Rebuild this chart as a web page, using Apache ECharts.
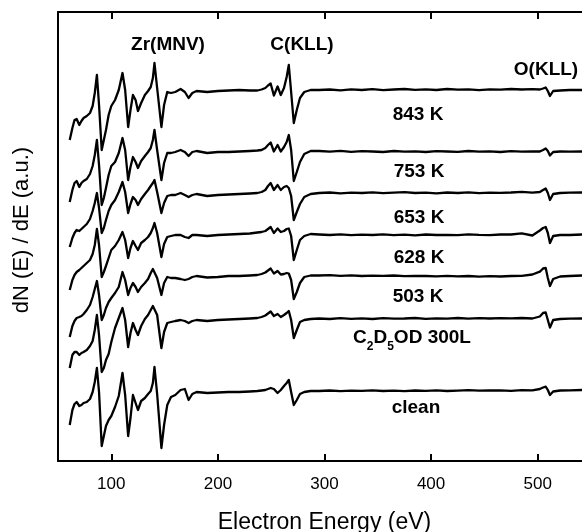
<!DOCTYPE html>
<html>
<head>
<meta charset="utf-8">
<title>AES spectra</title>
<script src="https://cdn.jsdelivr.net/npm/echarts@6/dist/echarts.min.js"></script>
<style>
  html, body { margin: 0; padding: 0; background: #fff; }
  #chart { width: 582px; height: 532px; }
</style>
</head>
<body>
<div id="chart"></div>
<script>
// energy grid (eV), shared by all spectra
const energy = [
  61, 63.5, 65.5, 67.5, 70, 72, 74, 77, 80, 82.5, 84.5, 86.5, 88.5, 91, 93, 95, 97.5, 100, 103.5, 107,
  110.5, 113, 115.8, 118, 120.3, 122.8, 125, 128, 131.5, 134.5, 137, 139, 140.5, 143, 147, 149.5, 152.5, 156, 160, 165,
  169, 172.5, 176, 180,
  190, 200, 210, 220, 230, 237, 241, 244.5, 247, 249.5, 252.5, 256, 259, 262, 264.5, 266.5, 268.7, 271.2, 274, 277,
  281, 287,
  295, 305, 315, 325, 335, 345, 355, 365, 375, 385, 395, 405, 415, 425, 435, 445, 455, 465, 475, 485, 495,
  502, 505, 507.5, 509.5, 511.5, 514.5, 521, 530, 541.8, 550
];

// dN/dE signal of each spectrum (a.u., relative to its own baseline)
const spec843 = [
  -50, -38, -30, -29, -35, -31, -28, -26, -23, -16, -3, 15, -15, -60, -50, -40, -25, -16, -10, 0,
  17, 0, -37, -20, -5, -10, -21, -13, -5, -1, 3, 12, 27, 2, -37, -15, -2, -3, -2, 1,
  -2, -8, -3, -1,
  -2, -1, -0.5, 0, -0.5, -0.5, 0.5, 2, 4.5, 6.5, -5.5, 3.5, -5, 2, 13, 25, -2, -33, -20, -8, -2, 0,
  0, 0.5, -0.3, 0.6, 0, 0.8, -0.2, 0.5, 1, 0.2, 0.6, 0, 1, 0.3, 0.7, -0.2, 0.6, 0.4, 1, 0.5, 0.8,
  0.5, 1.5, 2.5, -1, -6, -1, -0.5, 0, 0, 0
];
const spec753 = [
  -52, -40, -33, -31, -37, -33, -31, -29, -24, -16, -5, 10, -15, -55, -48, -38, -25, -16, -12, -3,
  12, 0, -30, -17, -7, -12, -18, -11, -6, -2, 2, 10, 20, 0, -30, -13, -3, -3, -2, 0,
  -2, -6, -2, -1,
  -3, -2, -2, -1.5, -1, -0.5, 0, 2, 5, 7.5, -1.5, 5, -1.5, 3, 8, 15, 0, -31, -22, -12, -4, -1,
  -1, -1.6, -0.8, -1.8, -1.2, -1.5, -2, -1, -1.7, -1.3, -2, -1.2, -1.5, -1.9, -1, -1.6, -1.4, -2, -1.2, -1.7, -1.3,
  -1.5, 0, 1.5, -1, -5.5, -2, -1.5, -1.7, -1.5, -1.5
];
const spec653 = [
  -54, -45, -40, -37, -38, -36, -34, -31, -26, -18, -10, 0, -15, -40, -35, -27, -18, -12, -7, 1,
  11, 1, -20, -11, -4, -7, -12, -6, -1, 3, 7, 10, 13, 1, -20, -10, -3, -2, -2, 0,
  -2, -4, -2, -1,
  -3, -2, -1.5, -1, -0.5, 0, 1, 3, 7, 10, 3, 8, 3, 6, 7, 5, -3, -27, -19, -11, -4, -1,
  0, 0.5, -0.3, 0.4, 0, 0.6, -0.2, 0.3, 0.8, 0, 0.4, -0.3, 0.5, 0, 0.6, -0.2, 0.4, 0.2, 0.5, 1.2, 0.3,
  1, 3, 4.5, 0, -7, -1, 0, 0.3, 0.5, 0.5
];
const spec628 = [
  -56, -46, -41, -38, -36, -34, -32, -29, -26, -20, -11, 5, -11, -43, -38, -32, -24, -16, -12, -6,
  2, -6, -24, -14, -7, -12, -16, -9, -6, -3, 1, 6, 11, 1, -23, -10, -3, -2, -1, -1,
  -3, -4, -1, -1,
  -2, -1, -0.5, 0, 0.5, 1.5, 2, 3, 5, 7, 1, 5.5, 2, 3, 5, 5.5, -2, -26, -16, -6, -2, 0,
  -0.5, -1, -0.3, -1.2, -0.6, -1, -0.4, -1.1, -0.7, -1.3, -0.5, -1, -0.8, -1.2, -0.4, -0.9, -1.1, -0.5, -0.5, 0.6, -1.5,
  3.5, 6, 7, 1, -9, -2, -1, -1, -0.5, -0.5
];
const spec503 = [
  -62, -51, -46, -43, -42, -41, -39, -35, -30, -22, -14, -6, -20, -45, -40, -33, -27, -23, -18, -12,
  3, -5, -20, -13, -8, -12, -17, -12, -8, -4, 2, 6, 5, -3, -20, -8, -2, -3, -3, -4,
  -5, -4, -2, -1,
  -2.5, -2, -1, -1, -0.5, 0, 1, 2.5, 4.5, 6.5, 1.5, 4, 0.5, 1, 2, 1.5, -5, -24, -17, -8, -2, -0.5,
  -0.5, -0.2, -0.8, -0.4, -1, -0.6, -0.9, -0.5, -1.2, -0.8, -1, -1.4, -0.9, -1.3, -1, -1.6, -1.2, -1.5, -1, -0.8, 0.5,
  3.3, 6.5, 7, -3, -11, -4, -1.5, -1, -0.5, 0
];
const specEtOD = [
  -49, -36, -33, -33, -36, -34, -33, -31, -27, -22, -11, 4, -16, -53, -49, -41, -35, -23, -9, 1,
  11, -1, -28, -14, -4, -11, -16, -7, 0, 4, 9, 13, 14, 4, -29, -13, -4, -3, -2, -1,
  -2, -4, -2, -1,
  -2, -1, -0.5, 0, 0.5, 1, 2, 3.5, 5.5, 7.5, 3, 5, 2, 4, 6, 8, -1, -19, -11, -3, -1, 0,
  0.5, 0, 0.8, 0.2, 0.6, 0, 0.9, 0.3, 0.5, 1, 0.2, 0.7, 0.4, 1, 0.3, 0.8, 0.5, 0.9, 0.6, 1, 0.5,
  2.5, 6, 6.5, -1, -8.5, -1, 0, 0.3, 0.5, 0.5
];
const specClean = [
  -34, -19, -13, -11, -15, -14, -12, -11, -8, -1, 9, 23, -1, -55, -45, -35, -29, -25, -16, -5,
  18, -4, -45, -27, -4, -12, -19, -10, -7, -3, 0, 8, 24, -3, -57, -34, -14, -6, -4, 1,
  2, -9, -3, -1,
  -2, -1.5, -1, -1, -0.5, 0, 0.5, 1, 2, 3, 2, -2, 1, 5, 8, 11, -1, -14, -9, -3, -1, 0,
  0, 0.5, -0.2, 0.4, 0.1, 0.6, 0, 0.4, -0.2, 0.5, 0.2, 0.6, 0, 0.4, 0.8, 0.3, 0.5, 0.7, 0.2, 0.9, 0.6,
  2, 3.5, 4.3, 1, -4, -0.5, 0.5, 0.7, 1, 1
];

// vertical stacking offset of each spectrum (a.u.)
const offsets = [371, 311, 268, 227, 186, 142, 70];
const seriesNames = ['843 K', '753 K', '653 K', '628 K', '503 K', 'C2D5OD 300L', 'clean'];
const signals = [spec843, spec753, spec653, spec628, spec503, specEtOD, specClean];

const tickValues = [100, 200, 300, 400, 500];
const peakNames = ['Zr(MNV)', 'C(KLL)', 'O(KLL)'];

const FONT = '"Liberation Sans", Arial, Helvetica, sans-serif';

const chart = echarts.init(document.getElementById('chart'), null, { renderer: 'canvas' });

const series = signals.map(function (sig, k) {
  return {
    name: seriesNames[k],
    type: 'line',
    xAxisIndex: 0,
    yAxisIndex: 0,
    showSymbol: false,
    symbol: 'none',
    silent: true,
    clip: true,
    lineStyle: { color: '#000', width: 2.3, join: 'round' },
    data: energy.map(function (e, i) { return [e, offsets[k] + sig[i]]; })
  };
});

function label(text, x, y, size) {
  return {
    type: 'text',
    x: x,
    y: y,
    style: {
      text: text,
      font: 'bold ' + (size || 19) + 'px ' + FONT,
      fill: '#000',
      align: 'center', verticalAlign: 'middle',
      textAlign: 'center', textVerticalAlign: 'middle'
    }
  };
}

// label positions (px)
const graphics = [
  label(peakNames[0], 168, 45),
  label(peakNames[1], 302, 45),
  label(peakNames[2], 546, 70),
  label(seriesNames[0], 418, 115),
  label(seriesNames[1], 419, 172),
  label(seriesNames[2], 419, 218),
  label(seriesNames[3], 419, 258),
  label(seriesNames[4], 418, 297),
  {
    type: 'text',
    x: 412,
    y: 338,
    style: {
      text: 'C{s|2}D{s|5}OD 300L',
      font: 'bold 19px ' + FONT,
      fill: '#000',
      align: 'center', verticalAlign: 'middle',
      textAlign: 'center', textVerticalAlign: 'middle',
      rich: {
        s: { font: 'bold 12px ' + FONT, fill: '#000', padding: [18, 0, 0, 0] }
      }
    }
  },
  label(seriesNames[6], 416, 408),
  {
    type: 'text',
    x: 22,
    y: 230,
    rotation: Math.PI / 2,
    style: {
      text: 'dN (E) / dE (a.u.)',
      font: '22px ' + FONT,
      fill: '#000',
      align: 'center', verticalAlign: 'middle',
      textAlign: 'center', textVerticalAlign: 'middle'
    }
  }
];

const frameLine = { show: true, onZero: false, lineStyle: { color: '#000', width: 2 } };
const frameTick = { show: true, inside: true, length: 7, lineStyle: { color: '#000', width: 2 }, customValues: tickValues };

const option = {
  backgroundColor: '#fff',
  animation: false,
  grid: { left: 58, top: 12, width: 533, height: 449, containLabel: false, outerBoundsMode: 'none' },
  xAxis: [
    {
      type: 'value',
      position: 'bottom',
      min: 50,
      max: 550,
      axisLine: frameLine,
      axisTick: frameTick,
      axisLabel: { customValues: tickValues, color: '#000', fontSize: 17, fontFamily: FONT, margin: 15 },
      splitLine: { show: false },
      name: 'Electron Energy (eV)',
      nameLocation: 'middle',
      nameGap: 50,
      nameTextStyle: { color: '#000', fontSize: 23, fontFamily: FONT }
    },
    {
      type: 'value',
      position: 'top',
      min: 50,
      max: 550,
      axisLine: frameLine,
      axisTick: frameTick,
      axisLabel: { show: false },
      splitLine: { show: false }
    }
  ],
  yAxis: {
    type: 'value',
    min: 0,
    max: 449,
    axisLine: frameLine,
    axisTick: { show: false },
    axisLabel: { show: false },
    splitLine: { show: false }
  },
  graphic: graphics,
  series: series
};

chart.setOption(option);
</script>
</body>
</html>
